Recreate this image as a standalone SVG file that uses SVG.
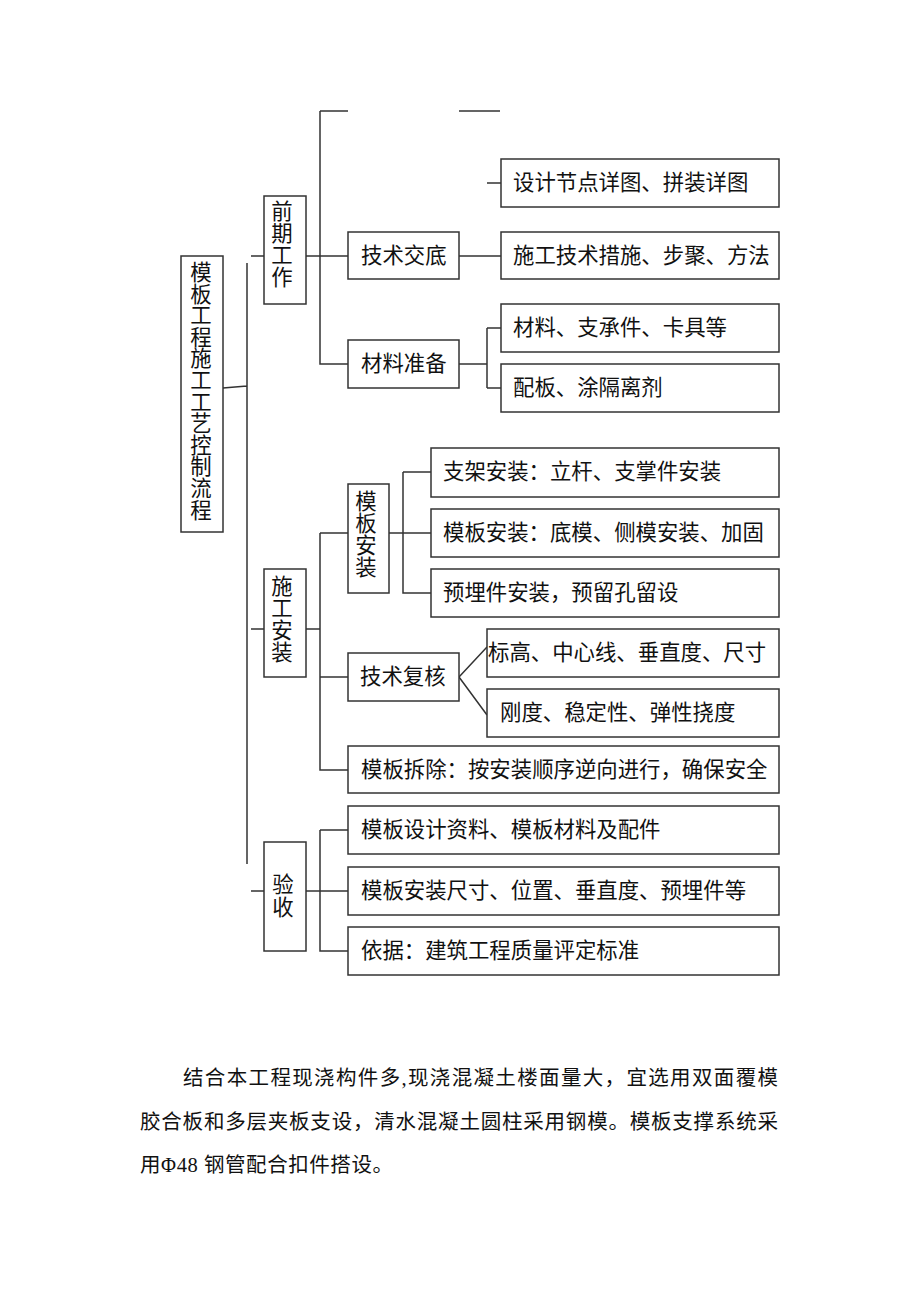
<svg xmlns="http://www.w3.org/2000/svg" width="920" height="1302" viewBox="0 0 920 1302">
<style>
.box{fill:#fff;stroke:#333;stroke-width:1.5}
.ln{fill:none;stroke:#333;stroke-width:1.5}
.t{font-family:"Liberation Serif","Noto Sans CJK SC",serif;font-size:21.4px;fill:#111;dominant-baseline:central}
.v{text-anchor:middle}
.p{font-family:"Liberation Serif","Noto Sans CJK SC",serif;font-size:20.5px;fill:#111;dominant-baseline:central}
</style>
<rect width="920" height="1302" fill="#fff"/>
<g id="connectors">
<path class="ln" d="M223,388 L247,386 M247,263 V864 M251,256 H264 M251,629 H264 M251,891 H264"/>
<path class="ln" d="M306,256 H348 M320,111 V364 H348 M320,111 H348 M459,111 H500 M487,183 H501 M459,256 H501"/>
<path class="ln" d="M459,364 H487 M487,328 V388 M487,328 H501 M487,388 H501"/>
<path class="ln" d="M306,629 H320 M320,533 V770 H348 M320,533 H348 M320,677 H348"/>
<path class="ln" d="M389,533 H403 M403,472 V593 H431 M403,472 H431 M403,533 H431"/>
<path class="ln" d="M459,677 L487,647 M459,677 L487,715"/>
<path class="ln" d="M306,891 H348 M320,830 V951 H348 M320,830 H348"/>
</g>
<g id="main">
<rect class="box" x="181" y="256" width="42" height="276"/>
<text class="t v"><tspan x="201" y="273">模</tspan><tspan x="201" y="294.6">板</tspan><tspan x="201" y="316.2">工</tspan><tspan x="201" y="337.8">程</tspan><tspan x="201" y="359.4">施</tspan><tspan x="201" y="381">工</tspan><tspan x="201" y="402.6">工</tspan><tspan x="201" y="424.2">艺</tspan><tspan x="201" y="445.8">控</tspan><tspan x="201" y="467.4">制</tspan><tspan x="201" y="489">流</tspan><tspan x="201" y="510.6">程</tspan></text>
</g>
<g id="qianqi">
<rect class="box" x="264" y="196" width="42" height="108"/>
<text class="t v"><tspan x="282" y="212">前</tspan><tspan x="282" y="234">期</tspan><tspan x="282" y="256">工</tspan><tspan x="282" y="278">作</tspan></text>
</g>
<g id="shigong">
<rect class="box" x="264" y="569" width="42" height="108"/>
<text class="t v"><tspan x="282" y="587">施</tspan><tspan x="282" y="609">工</tspan><tspan x="282" y="631">安</tspan><tspan x="282" y="653">装</tspan></text>
</g>
<g id="yanshou">
<rect class="box" x="264" y="842" width="42" height="109"/>
<text class="t v"><tspan x="283" y="885">验</tspan><tspan x="283" y="908">收</tspan></text>
</g>
<g id="jiaodi">
<rect class="box" x="348" y="232" width="111" height="47"/>
<text class="t" x="361" y="256">技术交底</text>
</g>
<g id="zhunbei">
<rect class="box" x="348" y="340" width="111" height="48"/>
<text class="t" x="361" y="364">材料准备</text>
</g>
<g id="sheji">
<rect class="box" x="501" y="159" width="278" height="48"/>
<text class="t" x="513" y="183">设计节点详图、拼装详图</text>
</g>
<g id="cuoshi">
<rect class="box" x="501" y="232" width="278" height="47"/>
<text class="t" x="513" y="256">施工技术措施、步聚、方法</text>
</g>
<g id="cailiao">
<rect class="box" x="501" y="304" width="278" height="48"/>
<text class="t" x="513" y="328">材料、支承件、卡具等</text>
</g>
<g id="peiban">
<rect class="box" x="501" y="364" width="278" height="48"/>
<text class="t" x="513" y="388">配板、涂隔离剂</text>
</g>
<g id="mubananzhuang">
<rect class="box" x="348" y="484" width="41" height="109"/>
<text class="t v"><tspan x="366" y="502">模</tspan><tspan x="366" y="524">板</tspan><tspan x="366" y="546">安</tspan><tspan x="366" y="568">装</tspan></text>
</g>
<g id="zhijia">
<rect class="box" x="431" y="448" width="348" height="49"/>
<text class="t" x="443" y="472">支架安装：立杆、支掌件安装</text>
</g>
<g id="mubanaz2">
<rect class="box" x="431" y="509" width="348" height="48"/>
<text class="t" x="443" y="533">模板安装：底模、侧模安装、加固</text>
</g>
<g id="yumai">
<rect class="box" x="431" y="569" width="348" height="48"/>
<text class="t" x="443" y="593">预埋件安装，预留孔留设</text>
</g>
<g id="fuhe">
<rect class="box" x="348" y="653" width="111" height="48"/>
<text class="t" x="360" y="677">技术复核</text>
</g>
<g id="biaogao">
<rect class="box" x="487" y="629" width="292" height="48"/>
<text class="t" x="488" y="653">标高、中心线、垂直度、尺寸</text>
</g>
<g id="gangdu">
<rect class="box" x="487" y="689" width="292" height="48"/>
<text class="t" x="500" y="713">刚度、稳定性、弹性挠度</text>
</g>
<g id="chaichu">
<rect class="box" x="348" y="746" width="431" height="47"/>
<text class="t" x="361" y="770">模板拆除：按安装顺序逆向进行，确保安全</text>
</g>
<g id="ziliao">
<rect class="box" x="348" y="806" width="431" height="48"/>
<text class="t" x="361" y="830">模板设计资料、模板材料及配件</text>
</g>
<g id="chicun">
<rect class="box" x="348" y="867" width="431" height="48"/>
<text class="t" x="361" y="891">模板安装尺寸、位置、垂直度、预埋件等</text>
</g>
<g id="yiju">
<rect class="box" x="348" y="927" width="431" height="48"/>
<text class="t" x="361" y="951">依据：建筑工程质量评定标准</text>
</g>
<g id="paragraph">
<text class="p" x="183" y="1078" textLength="595" lengthAdjust="spacing">结合本工程现浇构件多,现浇混凝土楼面量大，宜选用双面覆模</text>
<text class="p" x="140" y="1122" textLength="638" lengthAdjust="spacing">胶合板和多层夹板支设，清水混凝土圆柱采用钢模。模板支撑系统采</text>
<text class="p" x="140" y="1165" textLength="253" lengthAdjust="spacing">用Φ48 钢管配合扣件搭设。</text>
</g>
</svg>
